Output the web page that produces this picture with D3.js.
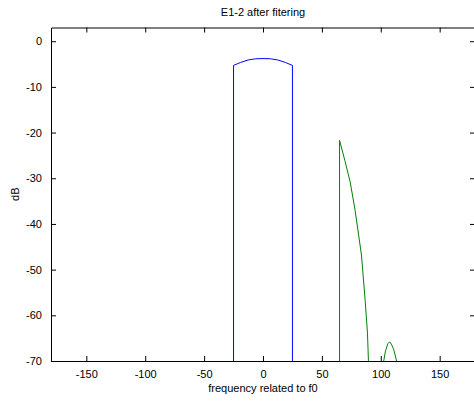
<!DOCTYPE html>
<html>
<head>
<meta charset="utf-8">
<script src="https://cdn.jsdelivr.net/npm/d3@7"></script>
<style>
  html, body { margin: 0; padding: 0; background: #fff; }
  svg { display: block; font-family: "Liberation Sans", Arial, sans-serif; }
</style>
</head>
<body>
<svg id="chart" width="474" height="403"></svg>
<script>
// Axis settings
const xDomain = [-180, 180];
const yDomain = [-70, 3];
const xTicks = [-150, -100, -50, 0, 50, 100, 150];
const yTicks = [0, -10, -20, -30, -40, -50, -60, -70];

// Filtered E1-2 spectrum (dB), values below -70 fall outside the axes
const blueFreq = [-25, -25, -19, -12.5, -6.25, 0, 6.25, 12.5, 19, 25, 25];
const blueDb   = [-120, -5.3, -4.65, -4.1, -3.85, -3.8, -3.85, -4.1, -4.65, -5.3, -120];

const greenFreq = [65, 65, 69.5, 74, 78.2, 83.6, 86.7, 88.7, 89.5, 90, 102, 102.5, 104, 106, 107.5, 109, 111, 113, 114, 116];
const greenDb   = [-120, -21.7, -26.1, -30.8, -37, -46.8, -56.6, -63.9, -69.8, -90, -90, -70, -67.8, -66.2, -65.8, -66.3, -67.5, -69.5, -71, -90];

const m = { left: 51, top: 27.5, right: 475, bottom: 361 };

const svg = d3.select("#chart");
const x = d3.scaleLinear().domain(xDomain).range([m.left, m.right]);
const y = d3.scaleLinear().domain(yDomain).range([m.bottom, m.top]);

svg.append("defs").append("clipPath").attr("id", "plotClip")
  .append("rect")
  .attr("x", m.left).attr("y", m.top)
  .attr("width", m.right - m.left).attr("height", m.bottom - m.top);

const plot = svg.append("g").attr("clip-path", "url(#plotClip)");
const line = d3.line().x(d => x(d[0])).y(d => y(d[1]));

plot.append("path")
  .datum(d3.zip(blueFreq, blueDb))
  .attr("d", line)
  .attr("fill", "none")
  .attr("stroke", "#0000ff")
  .attr("stroke-width", 1);

plot.append("path")
  .datum(d3.zip(greenFreq, greenDb))
  .attr("d", line)
  .attr("fill", "none")
  .attr("stroke", "#008000")
  .attr("stroke-width", 1);

// Axes with inward ticks on all four sides; plain hyphen for negatives
const tickLen = 5;
const fmt = d => String(d);
const styleAxis = g => {
  g.select(".domain").attr("stroke", "#000");
  g.selectAll(".tick line").attr("stroke", "#000");
  g.selectAll(".tick text").attr("fill", "#000").style("font-size", "11px")
    .style("font-family", "'Liberation Sans', Arial, sans-serif");
};

svg.append("g")
  .attr("transform", `translate(0,${m.bottom})`)
  .call(d3.axisBottom(x).tickValues(xTicks).tickFormat(fmt).tickSizeInner(-tickLen).tickSizeOuter(0).tickPadding(9))
  .call(styleAxis);

svg.append("g")
  .attr("transform", `translate(0,${m.top})`)
  .call(d3.axisTop(x).tickValues(xTicks).tickSizeInner(-tickLen).tickSizeOuter(0).tickFormat(""))
  .call(styleAxis);

svg.append("g")
  .attr("transform", `translate(${m.left},0)`)
  .call(d3.axisLeft(y).tickValues(yTicks).tickFormat(fmt).tickSizeInner(-tickLen).tickSizeOuter(0).tickPadding(9))
  .call(styleAxis);

svg.append("g")
  .attr("transform", `translate(${m.right},0)`)
  .call(d3.axisRight(y).tickValues(yTicks).tickSizeInner(-tickLen).tickSizeOuter(0).tickFormat(""))
  .call(styleAxis);

// Titles
svg.append("text")
  .attr("x", (m.left + m.right) / 2).attr("y", 16)
  .attr("text-anchor", "middle")
  .style("font-size", "11px")
  .text("E1-2 after fitering");

svg.append("text")
  .attr("x", (m.left + m.right) / 2).attr("y", 392)
  .attr("text-anchor", "middle")
  .style("font-size", "11px")
  .text("frequency related to f0");

svg.append("text")
  .attr("transform", `translate(19,${(m.top + m.bottom) / 2}) rotate(-90)`)
  .attr("text-anchor", "middle")
  .style("font-size", "11px")
  .text("dB");
</script>
</body>
</html>
